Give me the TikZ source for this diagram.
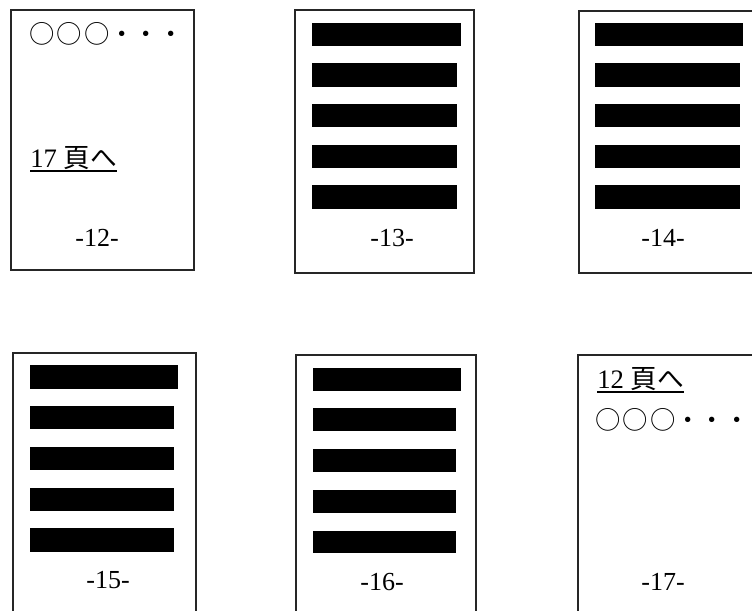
\documentclass[tikz,border=0pt]{standalone}
\usepackage{fontspec}
\setmainfont{Liberation Serif}
\newfontfamily\jpfont{Noto Sans CJK JP}
\newcommand{\circdots}{{\jpfont ○\kern1.6pt○\kern1.6pt○・\kern-0.8pt・\kern-0.8pt・}}
\begin{document}
\begin{tikzpicture}[x=0.75pt,y=-0.75pt,
  pagebox/.style={draw=black!85,line width=1pt},
  bar/.style={fill=black},
  pagenum/.style={inner sep=0pt,font=\fontsize{19.5}{19.5}\selectfont},
  reftext/.style={inner sep=0pt,anchor=base west,font=\fontsize{20}{20}\selectfont},
  dots/.style={inner sep=0pt,anchor=west,font=\fontsize{19}{19}\selectfont},
  uline/.style={line width=0.8pt}]
\useasboundingbox (0,0) rectangle (752,610);
\clip (0,0) rectangle (752,610);
% page 12
\draw[pagebox] (11,10) rectangle (194,270);
\node[dots] (c12) at (29,34) {\circdots};
\node[reftext] (r12) at (30,167) {17 {\jpfont 頁へ}};
\draw[uline] ([yshift=-3pt]r12.base west) -- ([yshift=-3pt]r12.base east);
\node[pagenum] (n12) at (97,238) {-12-};
% page 13
\draw[pagebox] (295,10) rectangle (474,273);
\fill[bar] (312,23) rectangle (461,46);
\fill[bar] (312,63) rectangle (457,87);
\fill[bar] (312,104) rectangle (457,127);
\fill[bar] (312,145) rectangle (457,168);
\fill[bar] (312,185) rectangle (457,209);
\node[pagenum] (n13) at (392,238) {-13-};
% page 14
\draw[pagebox] (579,11) rectangle (780,273);
\fill[bar] (595,23) rectangle (743,46);
\fill[bar] (595,63) rectangle (740,87);
\fill[bar] (595,104) rectangle (740,127);
\fill[bar] (595,145) rectangle (740,168);
\fill[bar] (595,185) rectangle (740,209);
\node[pagenum] (n14) at (663,238) {-14-};
% page 15
\draw[pagebox] (13,353) rectangle (196,640);
\fill[bar] (30,365) rectangle (178,389);
\fill[bar] (30,406) rectangle (174,429);
\fill[bar] (30,447) rectangle (174,470);
\fill[bar] (30,488) rectangle (174,511);
\fill[bar] (30,528) rectangle (174,552);
\node[pagenum] (n15) at (108,580) {-15-};
% page 16
\draw[pagebox] (296,355) rectangle (476,640);
\fill[bar] (313,368) rectangle (461,391);
\fill[bar] (313,408) rectangle (456,431);
\fill[bar] (313,449) rectangle (456,472);
\fill[bar] (313,490) rectangle (456,513);
\fill[bar] (313,531) rectangle (456,553);
\node[pagenum] (n16) at (382,582) {-16-};
% page 17
\draw[pagebox] (578,355) rectangle (780,640);
\node[reftext] (r17) at (597,388) {12 {\jpfont 頁へ}};
\draw[uline] ([yshift=-3pt]r17.base west) -- ([yshift=-3pt]r17.base east);
\node[dots] (c17) at (595,420) {\circdots};
\node[pagenum] (n17) at (663,582) {-17-};
\end{tikzpicture}
\end{document}
